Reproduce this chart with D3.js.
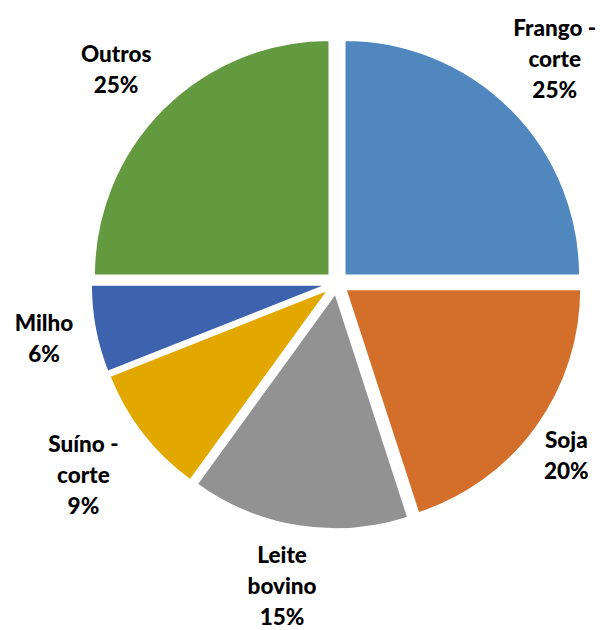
<!DOCTYPE html>
<html>
<head>
<meta charset="utf-8">
<script src="https://cdn.jsdelivr.net/npm/d3@7"></script>
<style>
  body { margin: 0; background: #fff; }
  text { font-family: Lato, "Open Sans", sans-serif; font-weight: 900; fill: #000; }
</style>
</head>
<body>
<svg class="chart"></svg>
<script>
// chart data
var categories = ["Frango - corte", "Soja", "Leite bovino", "Suíno - corte", "Milho", "Outros"];
var values = [25, 20, 15, 9, 6, 25];
var labelLines = [["Frango -", "corte"], ["Soja"], ["Leite", "bovino"], ["Suíno -", "corte"], ["Milho"], ["Outros"]];
var colors = ["#4f87be", "#d36f2b", "#929292", "#e2a800", "#3d63ae", "#63993f"];

var width = 610;
var height = 630;
var radius = 235;
var explode = 11;
var cx = 337, cy = 283;
var lineH = 31;
var gap = 11;
var shiftX = -7;

var svg = d3.select(".chart")
	.attr("width", width)
	.attr("height", height);

var chart = svg.append("g")
	.attr("transform", "translate(" + cx + "," + cy + ")");

var pie = d3.pie().sort(null).value(function(d) { return d; });
var arcs = pie(values);

var arc = d3.arc().innerRadius(0).outerRadius(radius);

function mid(d) { return (d.startAngle + d.endAngle) / 2; }

// slices, each pushed out along its bisector
chart.selectAll(".slice")
	.data(arcs)
.enter().append("path")
	.attr("class", "slice")
	.attr("d", arc)
	.attr("fill", function(d, i) { return colors[i]; })
	.attr("stroke", "#fff")
	.attr("stroke-width", 1.5)
	.attr("transform", function(d) {
		var a = mid(d);
		return "translate(" + (Math.sin(a) * explode) + "," + (-Math.cos(a) * explode) + ")";
	});

// labels outside the pie
var labels = chart.selectAll(".label")
	.data(arcs)
.enter().append("text")
	.attr("class", "label")
	.attr("text-anchor", "middle")
	.style("font-size", "22.5px");

labels.each(function(d, i) {
	var t = d3.select(this);
	var lines = labelLines[i].concat([values[i] + "%"]);
	lines.forEach(function(s, k) {
		t.append("tspan")
			.attr("x", 0)
			.attr("y", k * lineH)
			.text(s);
	});
});

labels.attr("transform", function(d, i) {
	var box = this.getBBox();
	var a = mid(d);
	var ux = Math.sin(a), uy = -Math.cos(a);
	var hw = box.width / 2, hh = box.height / 2;
	var dist = radius + explode + gap + hw * Math.abs(ux) + hh * Math.abs(uy);
	var x = ux * dist + shiftX;
	var y = uy * dist - (box.y + hh);
	return "translate(" + x + "," + y + ")";
});
</script>
</body>
</html>
